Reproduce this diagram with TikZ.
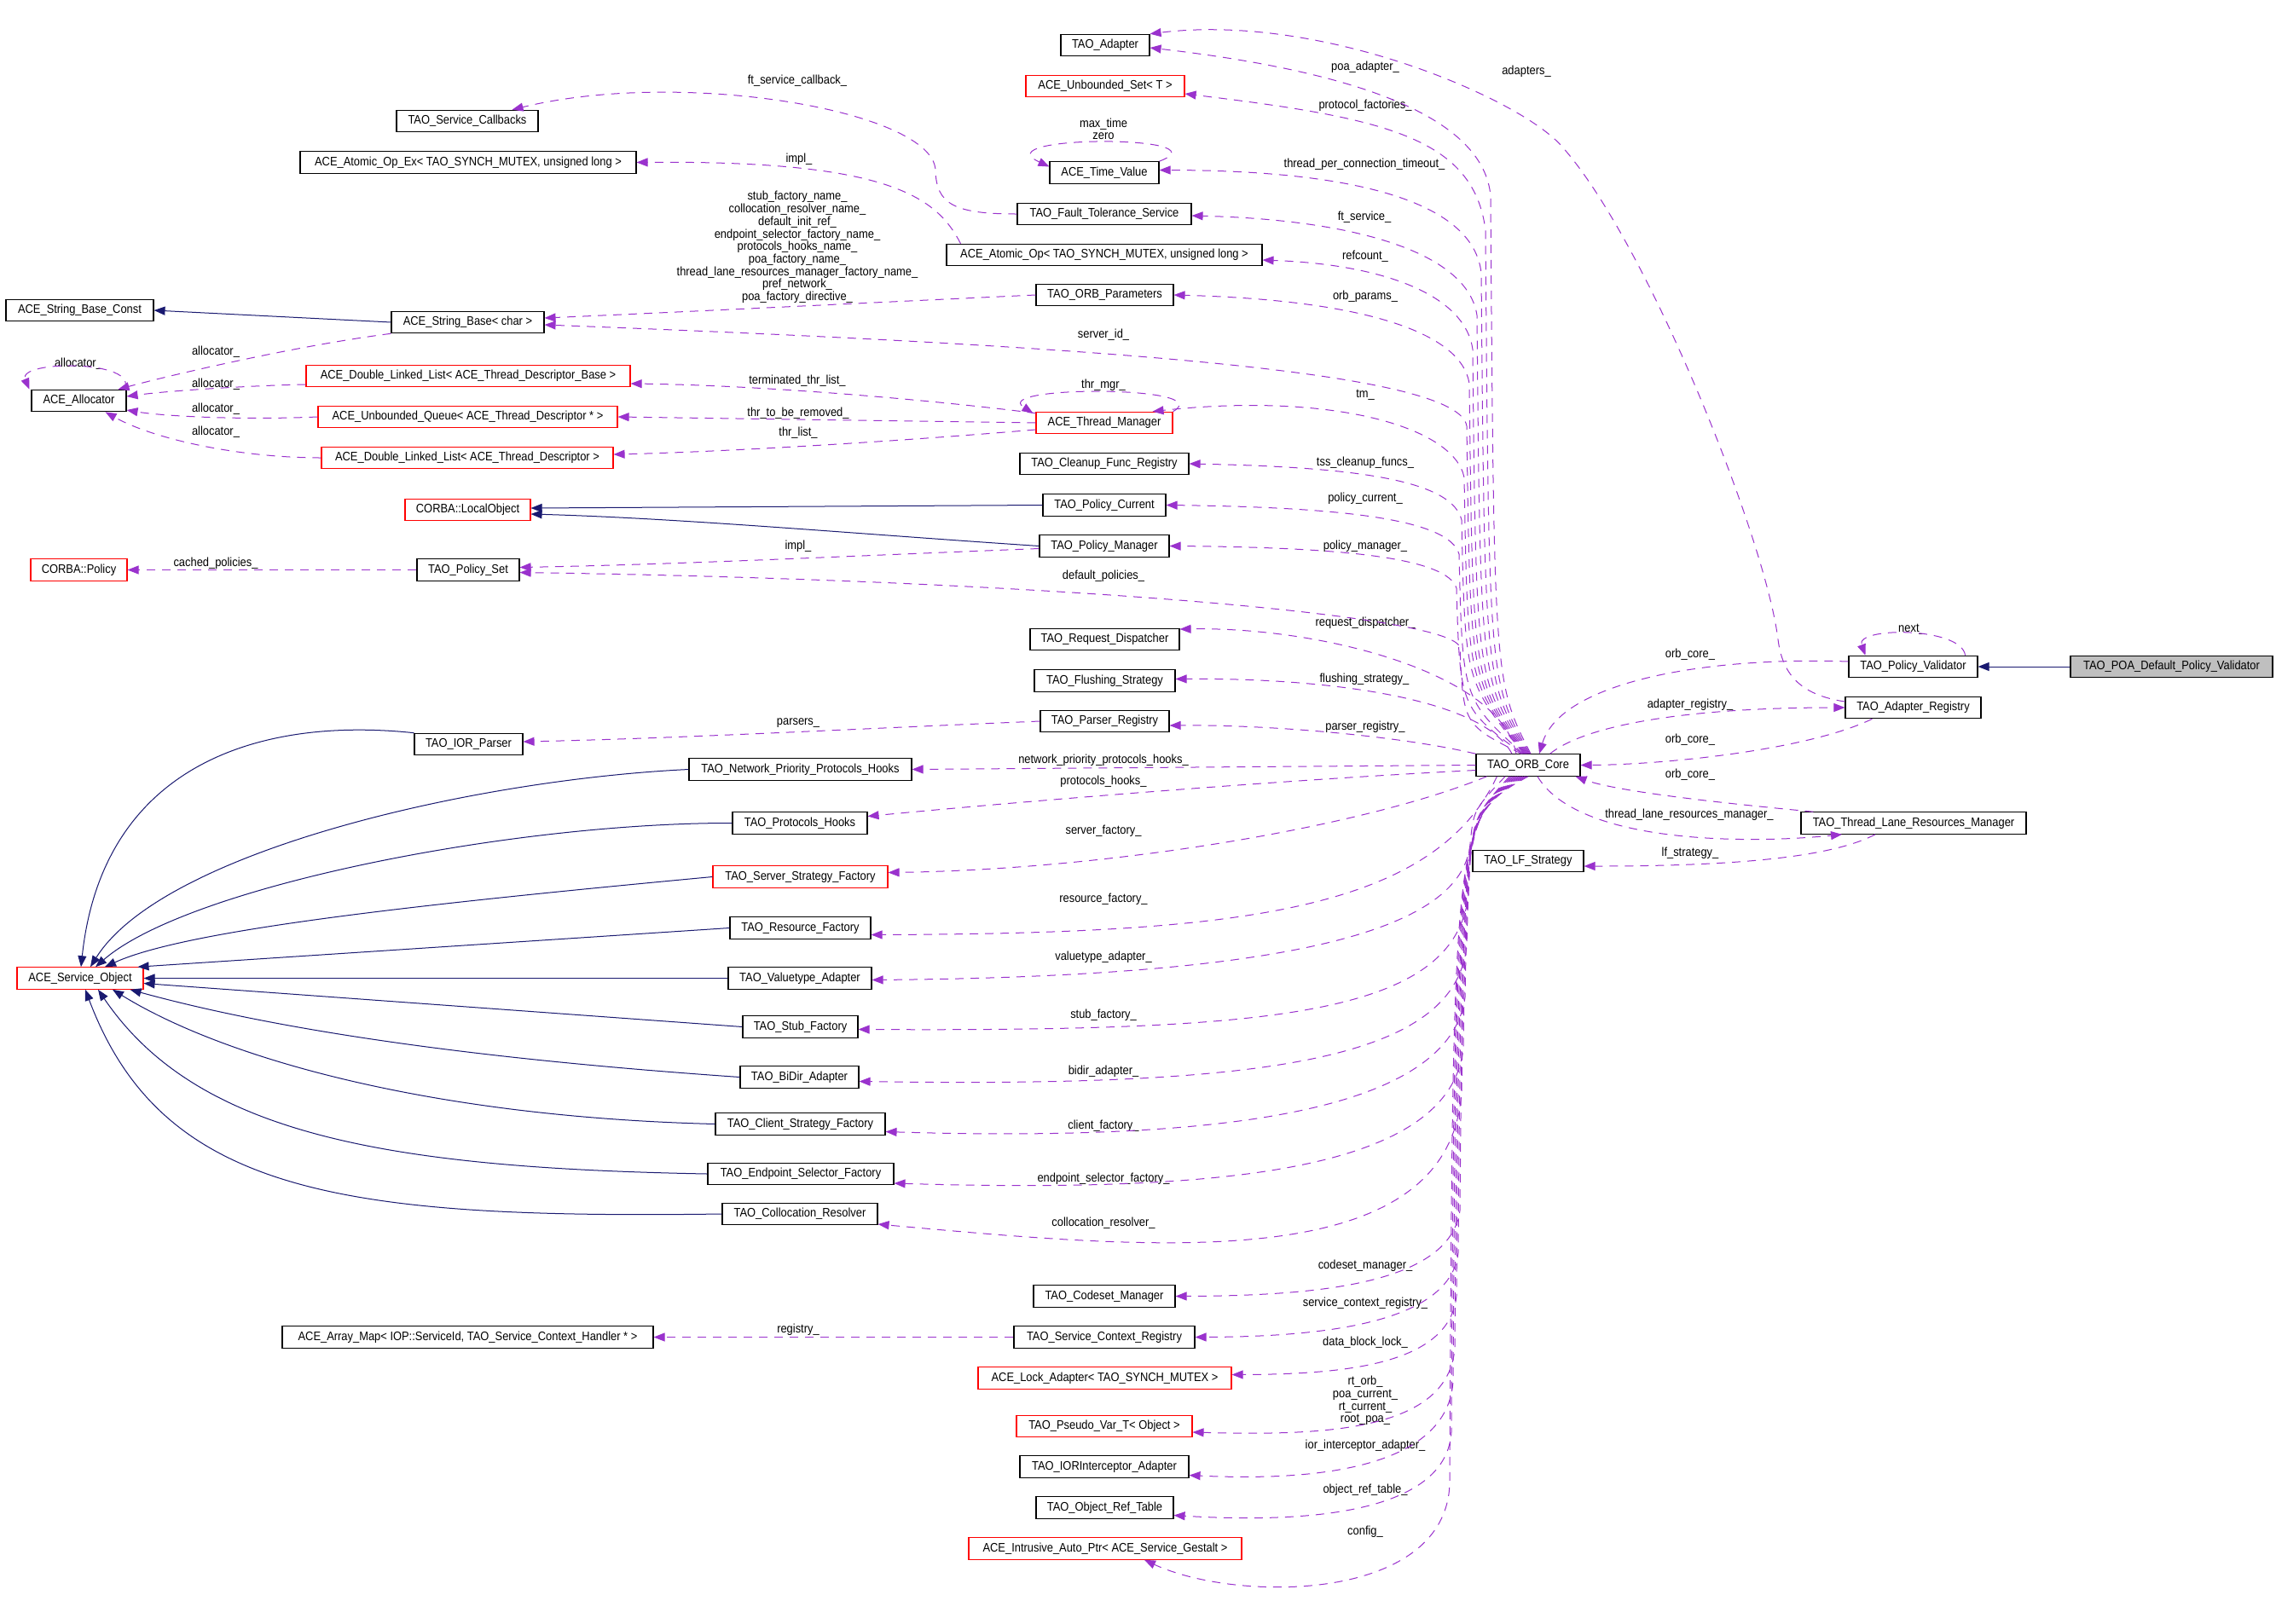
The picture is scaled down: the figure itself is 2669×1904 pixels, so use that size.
\documentclass[tikz,border=0pt]{standalone}
\usepackage{fontspec}
\setmainfont{Liberation Sans}[FakeStretch=0.89]
\usetikzlibrary{arrows.meta, calc}

\definecolor{darkorchid}{HTML}{9A32CD}
\definecolor{midnightblue}{HTML}{191970}
\definecolor{grey75}{HTML}{BFBFBF}

\tikzset{
  cls/.style={draw=black, line width=1.1pt, minimum height=25.5pt, inner sep=0pt,
    font=\fontsize{14.5}{14.7}\selectfont},
  clsred/.style={cls, draw=red},
  clsmain/.style={cls, fill=grey75},
  lbl/.style={inner sep=0pt, align=center, font=\fontsize{14.5}{14.7}\selectfont},
  memberedge/.style={draw=darkorchid, line width=1pt, dash pattern=on 10pt off 8pt,
    -{Triangle[length=13pt,width=10pt,fill=darkorchid]}},
  baseedge/.style={draw=midnightblue, line width=1pt,
    -{Triangle[length=13pt,width=10pt,fill=midnightblue]}},
}

\begin{document}
\begin{tikzpicture}[x=1pt,y=-1pt]
\path[fill=white, use as bounding box] (0,0) rectangle (2669,1904);

\node[cls, minimum width=173pt] (strbc) at (93.5,364) {ACE\_String\_Base\_Const};
\node[cls, minimum width=111pt] (alloc) at (92.5,470) {ACE\_Allocator};
\node[clsred, minimum width=113pt] (cpolicy) at (92.5,668.5) {CORBA::Policy};
\node[clsred, minimum width=148pt] (svcobj) at (94,1147.5) {ACE\_Service\_Object};

\node[cls, minimum width=166pt] (svccb) at (548,142) {TAO\_Service\_Callbacks};
\node[cls, minimum width=394pt] (atomicex) at (549,190.5) {ACE\_Atomic\_Op\_Ex< TAO\_SYNCH\_MUTEX, unsigned long >};
\node[cls, minimum width=179pt] (strbase) at (548.5,378) {ACE\_String\_Base< char >};
\node[clsred, minimum width=380pt] (dllbase) at (549,441) {ACE\_Double\_Linked\_List< ACE\_Thread\_Descriptor\_Base >};
\node[clsred, minimum width=351pt] (uqueue) at (548.5,489) {ACE\_Unbounded\_Queue< ACE\_Thread\_Descriptor * >};
\node[clsred, minimum width=342pt] (dlldesc) at (548,537) {ACE\_Double\_Linked\_List< ACE\_Thread\_Descriptor >};
\node[clsred, minimum width=147pt] (localobj) at (548.5,598) {CORBA::LocalObject};
\node[cls, minimum width=120pt] (policyset) at (549,668.5) {TAO\_Policy\_Set};
\node[cls, minimum width=127pt] (iorparser) at (549.5,873) {TAO\_IOR\_Parser};
\node[cls, minimum width=435pt] (arraymap) at (548.5,1568.5) {ACE\_Array\_Map< IOP::ServiceId, TAO\_Service\_Context\_Handler * >};

\node[cls, minimum width=261pt] (nphooks) at (938.5,902.5) {TAO\_Network\_Priority\_Protocols\_Hooks};
\node[cls, minimum width=158pt] (phooks) at (938,965.5) {TAO\_Protocols\_Hooks};
\node[clsred, minimum width=205pt] (ssf) at (938.5,1028.5) {TAO\_Server\_Strategy\_Factory};
\node[cls, minimum width=165pt] (resfac) at (938.5,1088.5) {TAO\_Resource\_Factory};
\node[cls, minimum width=168pt] (vtadapter) at (938,1147.5) {TAO\_Valuetype\_Adapter};
\node[cls, minimum width=135pt] (stubfac) at (938.5,1204.5) {TAO\_Stub\_Factory};
\node[cls, minimum width=139pt] (bidir) at (937.5,1263.5) {TAO\_BiDir\_Adapter};
\node[cls, minimum width=199pt] (csf) at (938.5,1318.5) {TAO\_Client\_Strategy\_Factory};
\node[cls, minimum width=218pt] (esf) at (939,1377) {TAO\_Endpoint\_Selector\_Factory};
\node[cls, minimum width=182pt] (collres) at (938,1424) {TAO\_Collocation\_Resolver};

\node[cls, minimum width=104pt] (adapter) at (1296,53) {TAO\_Adapter};
\node[clsred, minimum width=186pt] (uset) at (1296,101) {ACE\_Unbounded\_Set< T >};
\node[cls, minimum width=128pt] (timeval) at (1295,202.5) {ACE\_Time\_Value};
\node[cls, minimum width=204pt] (fts) at (1295,251) {TAO\_Fault\_Tolerance\_Service};
\node[cls, minimum width=370pt] (atomic) at (1295,299) {ACE\_Atomic\_Op< TAO\_SYNCH\_MUTEX, unsigned long >};
\node[cls, minimum width=161pt] (orbparams) at (1295.5,346) {TAO\_ORB\_Parameters};
\node[clsred, minimum width=160pt] (thrmgr) at (1295,496) {ACE\_Thread\_Manager};
\node[cls, minimum width=198pt] (cleanup) at (1295,544) {TAO\_Cleanup\_Func\_Registry};
\node[cls, minimum width=144pt] (policycur) at (1295,592.5) {TAO\_Policy\_Current};
\node[cls, minimum width=152pt] (policymgr) at (1295,640.5) {TAO\_Policy\_Manager};
\node[cls, minimum width=175pt] (reqdisp) at (1295.5,750) {TAO\_Request\_Dispatcher};
\node[cls, minimum width=165pt] (flush) at (1295.5,798.5) {TAO\_Flushing\_Strategy};
\node[cls, minimum width=151pt] (parser) at (1295.5,846) {TAO\_Parser\_Registry};
\node[cls, minimum width=166pt] (codeset) at (1295,1520.5) {TAO\_Codeset\_Manager};
\node[cls, minimum width=212pt] (scr) at (1295,1568.5) {TAO\_Service\_Context\_Registry};
\node[clsred, minimum width=297pt] (lockad) at (1295.5,1616.5) {ACE\_Lock\_Adapter< TAO\_SYNCH\_MUTEX >};
\node[clsred, minimum width=206pt] (pseudovar) at (1295,1673) {TAO\_Pseudo\_Var\_T< Object >};
\node[cls, minimum width=198pt] (iorint) at (1295,1720.5) {TAO\_IORInterceptor\_Adapter};
\node[cls, minimum width=161pt] (objref) at (1295.5,1768.5) {TAO\_Object\_Ref\_Table};
\node[clsred, minimum width=320pt] (autoptr) at (1296,1816.5) {ACE\_Intrusive\_Auto\_Ptr< ACE\_Service\_Gestalt >};

\node[cls, minimum width=122pt] (core) at (1792,897.5) {TAO\_ORB\_Core};
\node[cls, minimum width=130pt] (lfstrat) at (1792,1010) {TAO\_LF\_Strategy};

\node[cls, minimum width=151pt] (validator) at (2243.5,782) {TAO\_Policy\_Validator};
\node[cls, minimum width=159pt] (adreg) at (2243.5,830) {TAO\_Adapter\_Registry};
\node[cls, minimum width=264pt] (tlrm) at (2244,965.5) {TAO\_Thread\_Lane\_Resources\_Manager};
\node[clsmain, minimum width=237pt] (poadef) at (2546.5,782) {TAO\_POA\_Default\_Policy\_Validator};

\node[lbl] (lalloc0) at (92,427) {allocator\_};
\node[lbl] (lalloc1) at (253,412.5) {allocator\_};
\node[lbl] (lalloc2) at (253,450.7) {allocator\_};
\node[lbl] (lalloc3) at (253,479.7) {allocator\_};
\node[lbl] (lalloc4) at (253,506.6) {allocator\_};
\node[lbl] (lftcb) at (935,95) {ft\_service\_callback\_};
\node[lbl] (limpl0) at (937,186.6) {impl\_};
\node[lbl] (lnames) at (935,290) {stub\_factory\_name\_\\collocation\_resolver\_name\_\\default\_init\_ref\_\\endpoint\_selector\_factory\_name\_\\protocols\_hooks\_name\_\\poa\_factory\_name\_\\thread\_lane\_resources\_manager\_factory\_name\_\\pref\_network\_\\poa\_factory\_directive\_};
\node[lbl] (lterm) at (935,446.5) {terminated\_thr\_list\_};
\node[lbl] (lremove) at (936,484.2) {thr\_to\_be\_removed\_};
\node[lbl] (lthrlist) at (936,507.5) {thr\_list\_};
\node[lbl] (limpl1) at (936,641) {impl\_};
\node[lbl] (lcached) at (253,660.4) {cached\_policies\_};
\node[lbl] (ldefpol) at (1294,675.7) {default\_policies\_};
\node[lbl] (lparsers) at (936,847.8) {parsers\_};
\node[lbl] (lnpph) at (1294,891.7) {network\_priority\_protocols\_hooks\_};
\node[lbl] (lph) at (1294,916.6) {protocols\_hooks\_};
\node[lbl] (lsf) at (1294,974.6) {server\_factory\_};
\node[lbl] (lrf) at (1294,1055) {resource\_factory\_};
\node[lbl] (lva) at (1294,1122.6) {valuetype\_adapter\_};
\node[lbl] (lstub) at (1294,1191) {stub\_factory\_};
\node[lbl] (lbidir) at (1294,1256.5) {bidir\_adapter\_};
\node[lbl] (lcf) at (1294,1320.4) {client\_factory\_};
\node[lbl] (lesf) at (1294,1382.8) {endpoint\_selector\_factory\_};
\node[lbl] (lcr) at (1294,1434.8) {collocation\_resolver\_};
\node[lbl] (lcsm) at (1601,1484.9) {codeset\_manager\_};
\node[lbl] (lscr) at (1601,1528.8) {service\_context\_registry\_};
\node[lbl] (lreg) at (936,1560) {registry\_};
\node[lbl] (ldbl) at (1601,1574.7) {data\_block\_lock\_};
\node[lbl] (lpseudo) at (1601,1643) {rt\_orb\_\\poa\_current\_\\rt\_current\_\\root\_poa\_};
\node[lbl] (lior) at (1601,1695.6) {ior\_interceptor\_adapter\_};
\node[lbl] (lort) at (1601,1747.6) {object\_ref\_table\_};
\node[lbl] (lconfig) at (1601,1796.9) {config\_};
\node[lbl] (lpoa) at (1601,78.8) {poa\_adapter\_};
\node[lbl] (ladapters) at (1790,83.7) {adapters\_};
\node[lbl] (lpf) at (1601,123.5) {protocol\_factories\_};
\node[lbl] (ltime) at (1294,151.4) {max\_time\\zero};
\node[lbl] (ltpct) at (1600,192.8) {thread\_per\_connection\_timeout\_};
\node[lbl] (lft) at (1600,255) {ft\_service\_};
\node[lbl] (lref) at (1601,300.6) {refcount\_};
\node[lbl] (lop) at (1601,347.8) {orb\_params\_};
\node[lbl] (lsid) at (1294,392.6) {server\_id\_};
\node[lbl] (lthrmgr) at (1294,451.9) {thr\_mgr\_};
\node[lbl] (ltm) at (1601,463.1) {tm\_};
\node[lbl] (ltss) at (1601,543.1) {tss\_cleanup\_funcs\_};
\node[lbl] (lpc) at (1601,584.6) {policy\_current\_};
\node[lbl] (lpm) at (1601,641) {policy\_manager\_};
\node[lbl] (lrd) at (1601,730.8) {request\_dispatcher\_};
\node[lbl] (lfs) at (1600,796.8) {flushing\_strategy\_};
\node[lbl] (lpr) at (1601,852.7) {parser\_registry\_};
\node[lbl] (lnext) at (2242,738.3) {next\_};
\node[lbl] (loc0) at (1982,767.7) {orb\_core\_};
\node[lbl] (lar) at (1982,827) {adapter\_registry\_};
\node[lbl] (loc1) at (1982,867.7) {orb\_core\_};
\node[lbl] (loc2) at (1982,908.7) {orb\_core\_};
\node[lbl] (ltlrm) at (1981,956) {thread\_lane\_resources\_manager\_};
\node[lbl] (llf) at (1982,1000.7) {lf\_strategy\_};

% inheritance
\draw[baseedge] (strbase.west) -- (strbc.east);
\draw[baseedge] (policycur.west) -- ($(localobj.east)+(0,-2)$);
\draw[baseedge] (policymgr.west) .. controls (1000,626) and (800,608) .. ($(localobj.east)+(0,5)$);
\draw[baseedge] (poadef.west) -- (validator.east);
\draw[baseedge] (iorparser.north west) .. controls (300,840) and (120,900) .. ($(svcobj.north)+(1,0)$);
\draw[baseedge] (nphooks.west) .. controls (550,915) and (190,1000) .. ($(svcobj.north)+(12,0)$);
\draw[baseedge] (phooks.west) .. controls (600,965) and (220,1040) .. ($(svcobj.north)+(18,0)$);
\draw[baseedge] (ssf.west) .. controls (500,1060) and (220,1090) .. ($(svcobj.north)+(29,0)$);
\draw[baseedge] (resfac.west) -- ($(svcobj.north east)+(-7,0)$);
\draw[baseedge] (vtadapter.west) -- (svcobj.east);
\draw[baseedge] (stubfac.west) -- ($(svcobj.east)+(0,6)$);
\draw[baseedge] (bidir.west) .. controls (600,1245) and (350,1215) .. ($(svcobj.south east)+(-16,0)$);
\draw[baseedge] (csf.west) .. controls (500,1310) and (260,1240) .. ($(svcobj.south)+(38,0)$);
\draw[baseedge] (esf.west) .. controls (450,1370) and (230,1330) .. ($(svcobj.south)+(21,0)$);
\draw[baseedge] (collres.west) .. controls (400,1430) and (190,1400) .. ($(svcobj.south)+(6,0)$);

% members, left part
\draw[memberedge] (strbase.south west) .. controls (350,405) and (200,440) .. ($(alloc.north east)+(-10,0)$);
\draw[memberedge] ($(alloc.north east)+(-3,0)$) .. controls (165,422) and (20,422) .. ($(alloc.north west)+(-2,0)$);
\draw[memberedge] ($(dllbase.west)+(0,10)$) .. controls (300,452) and (200,458) .. ($(alloc.east)+(0,-5)$);
\draw[memberedge] (uqueue.west) .. controls (280,493) and (190,488) .. ($(alloc.east)+(0,11)$);
\draw[memberedge] (dlldesc.west) .. controls (280,537) and (180,515) .. ($(alloc.south east)+(-25,0)$);
\draw[memberedge] ($(thrmgr.north west)+(0,2)$) .. controls (1100,470) and (900,452) .. ($(dllbase.east)+(0,9)$);
\draw[memberedge] (thrmgr.west) -- (uqueue.east);
\draw[memberedge] ($(thrmgr.west)+(0,8)$) .. controls (1050,518) and (850,530) .. ($(dlldesc.east)+(0,-4)$);
\draw[memberedge] (thrmgr.north east) .. controls (1430,452) and (1160,452) .. ($(thrmgr.north west)+(-3,2)$);
\draw[memberedge] (timeval.north east) .. controls (1440,158) and (1150,158) .. ($(timeval.west)+(0,-7)$);
\draw[memberedge] (fts.west) .. controls (1120,251) and (1098,240) .. (1097,200) .. controls (1095,130) and (800,80) .. ($(svccb.north east)+(-31,0)$);
\draw[memberedge] ($(atomic.north west)+(17,0)$) .. controls (1098,230) and (1040,188) .. (atomicex.east);
\draw[memberedge] (orbparams.west) .. controls (1000,356) and (800,366) .. ($(strbase.east)+(0,-5)$);
\draw[memberedge] ($(policymgr.west)+(0,3)$) .. controls (1000,652) and (800,662) .. ($(policyset.east)+(0,-3)$);
\draw[memberedge] (policyset.west) -- (cpolicy.east);
\draw[memberedge] (parser.west) .. controls (1000,855) and (800,866) .. ($(iorparser.east)+(0,-3)$);
\draw[memberedge] (scr.west) -- (arraymap.east);

% members of the core, upwards
\draw[memberedge] ($(core.north)+(3,0)$) .. controls (1752,800) .. (1748,230) .. controls (1740,140) and (1600,85) .. ($(adapter.east)+(0,3)$);
\draw[memberedge] ($(core.north)+(2,0)$) .. controls (1746,800) .. (1742,270) .. controls (1728,160) and (1620,138) .. ($(uset.east)+(0,9)$);
\draw[memberedge] ($(core.north)+(1,0)$) .. controls (1741,800) .. (1737,320) .. controls (1728,240) and (1600,200) .. ($(timeval.east)+(0,-3)$);
\draw[memberedge] (core.north) .. controls (1736,800) .. (1732,370) .. controls (1722,300) and (1600,258) .. ($(fts.east)+(0,2)$);
\draw[memberedge] ($(core.north)+(-1,0)$) .. controls (1731,800) .. (1727,410) .. controls (1718,345) and (1620,310) .. ($(atomic.east)+(0,6)$);
\draw[memberedge] ($(core.north)+(-2,0)$) .. controls (1727,800) .. (1723,450) .. controls (1714,390) and (1600,352) .. (orbparams.east);
\draw[memberedge] ($(core.north)+(-3,0)$) .. controls (1724,800) .. (1720,500) .. controls (1712,440) and (1350,408) .. ($(strbase.east)+(0,3)$);
\draw[memberedge] ($(core.north)+(-4,0)$) .. controls (1721,800) .. (1717,560) .. controls (1705,500) and (1560,460) .. ($(thrmgr.north east)+(-24,0)$);
\draw[memberedge] ($(core.north)+(-5,0)$) .. controls (1718,800) .. (1714,610) .. controls (1703,565) and (1600,548) .. (cleanup.east);
\draw[memberedge] ($(core.north)+(-6,0)$) .. controls (1715,820) .. (1711,650) .. controls (1700,610) and (1580,595) .. (policycur.east);
\draw[memberedge] ($(core.north)+(-7,0)$) .. controls (1712,830) .. (1708,690) .. controls (1697,655) and (1580,642) .. (policymgr.east);
\draw[memberedge] ($(core.north)+(-8,0)$) .. controls (1716,850) .. (1712,760) .. controls (1708,720) and (1200,680) .. ($(policyset.east)+(0,3)$);
\draw[memberedge] ($(core.north)+(-14,0)$) .. controls (1760,790) and (1550,735) .. ($(reqdisp.east)+(0,-12)$);
\draw[memberedge] ($(core.north)+(-19,0)$) .. controls (1740,820) and (1560,795) .. ($(flush.east)+(0,-2)$);
\draw[memberedge] (core.north west) .. controls (1650,865) and (1500,850) .. ($(parser.east)+(0,5)$);
\draw[memberedge] (core.west) -- (nphooks.east);
\draw[memberedge] ($(core.west)+(0,6)$) .. controls (1500,915) and (1200,940) .. ($(phooks.east)+(0,-8)$);

% members of the core, downwards
\draw[memberedge] ($(core.south west)+(13,0)$) .. controls (1600,970) and (1300,1020) .. ($(ssf.east)+(0,-5)$);
\draw[memberedge] ($(core.south west)+(25,0)$) .. controls (1680,1070) and (1450,1095) .. ($(resfac.east)+(0,8)$);
\draw[memberedge] ($(core.south)+(-27,0)$) .. controls (1728,950) .. (1724,990) .. controls (1715,1080) and (1560,1145) .. ($(vtadapter.east)+(0,2)$);
\draw[memberedge] ($(core.south)+(-22,0)$) .. controls (1726,960) .. (1722,1050) .. controls (1705,1190) and (1500,1210) .. ($(stubfac.east)+(0,3)$);
\draw[memberedge] ($(core.south)+(-20,0)$) .. controls (1724,960) .. (1720,1110) .. controls (1705,1240) and (1500,1276) .. ($(bidir.east)+(0,5)$);
\draw[memberedge] ($(core.south)+(-18,0)$) .. controls (1722,960) .. (1718,1170) .. controls (1700,1300) and (1450,1340) .. ($(csf.east)+(0,9)$);
\draw[memberedge] ($(core.south)+(-16,0)$) .. controls (1720,960) .. (1716,1230) .. controls (1700,1370) and (1450,1400) .. ($(esf.east)+(0,11)$);
\draw[memberedge] ($(core.south)+(-14,0)$) .. controls (1718,960) .. (1714,1280) .. controls (1700,1500) and (1350,1465) .. ($(collres.east)+(0,12)$);
\draw[memberedge] ($(core.south)+(-12,0)$) .. controls (1716,960) .. (1712,1420) .. controls (1700,1505) and (1550,1520) .. (codeset.east);
\draw[memberedge] ($(core.south)+(-10,0)$) .. controls (1714,960) .. (1710,1470) .. controls (1700,1550) and (1560,1568) .. (scr.east);
\draw[memberedge] ($(core.south)+(-8,0)$) .. controls (1712,960) .. (1708,1520) .. controls (1700,1600) and (1580,1612) .. ($(lockad.east)+(0,-4)$);
\draw[memberedge] ($(core.south)+(-6,0)$) .. controls (1710,960) .. (1706,1580) .. controls (1700,1680) and (1550,1684) .. ($(pseudovar.east)+(0,7)$);
\draw[memberedge] ($(core.south)+(-4,0)$) .. controls (1708,960) .. (1704,1620) .. controls (1698,1720) and (1550,1738) .. ($(iorint.east)+(0,10)$);
\draw[memberedge] ($(core.south)+(-2,0)$) .. controls (1706,960) .. (1702,1680) .. controls (1696,1770) and (1550,1788) .. ($(objref.east)+(0,9)$);
\draw[memberedge] (core.south) .. controls (1704,960) .. (1700,1740) .. controls (1696,1880) and (1450,1880) .. ($(autoptr.south)+(46,0)$);

% right part
\draw[memberedge] ($(core.north east)+(-36,0)$) .. controls (1860,850) and (1980,830) .. (adreg.west);
\draw[memberedge] ($(validator.west)+(0,-6)$) .. controls (2000,770) and (1830,800) .. ($(core.north)+(13,0)$);
\draw[memberedge] ($(adreg.south west)+(32,0)$) .. controls (2120,880) and (1950,897) .. (core.east);
\draw[memberedge] ($(tlrm.north west)+(15,0)$) .. controls (2050,945) and (1900,930) .. ($(core.south east)+(-6,0)$);
\draw[memberedge] ($(core.south)+(11,0)$) .. controls (1850,990) and (2050,990) .. ($(tlrm.south)+(-84,0)$);
\draw[memberedge] ($(tlrm.south)+(-45,0)$) .. controls (2140,1010) and (2000,1016) .. ($(lfstrat.east)+(0,6)$);
\draw[memberedge] ($(validator.north east)+(-15,0)$) .. controls (2300,735) and (2175,735) .. ($(validator.north west)+(20,0)$);
\draw[memberedge] ($(adreg.west)+(0,-7)$) .. controls (2110,815) and (2090,790) .. (2085,750) .. controls (2070,630) and (1930,280) .. (1830,170) .. controls (1780,115) and (1550,15) .. (adapter.north east);
\end{tikzpicture}
\end{document}
